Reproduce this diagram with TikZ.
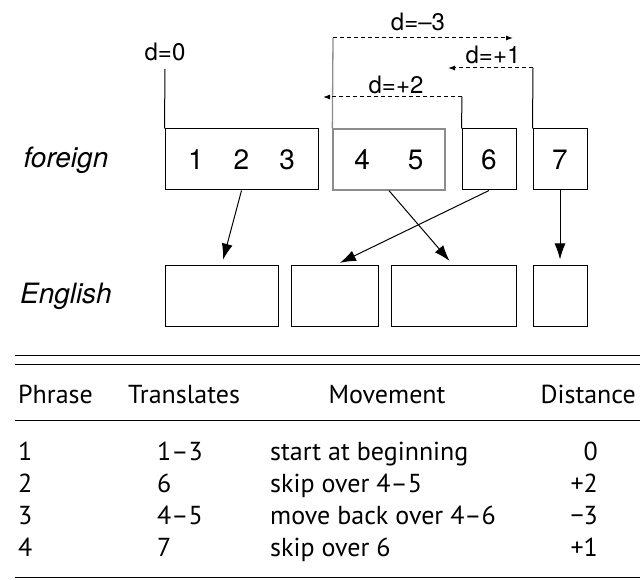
\documentclass[tikz,border=0pt]{standalone}
\usepackage{fontspec}
\setmainfont{TeX Gyre Heros}
\newfontfamily\tabfont{PT Sans}
\usetikzlibrary{arrows.meta}
\tikzstyle{phrase}=[draw,line width=1pt,minimum height=61pt,inner sep=0pt,font=\fontsize{28}{30}\selectfont]
\tikzstyle{moved}=[phrase,draw=black!45,line width=1.3pt]
\tikzstyle{slot}=[draw,line width=1pt,minimum height=60pt,inner sep=0pt]
\tikzstyle{lang}=[font=\fontsize{28}{30}\selectfont\itshape]
\tikzstyle{dist}=[font=\fontsize{24}{26}\selectfont,inner sep=0pt]
\tikzstyle{jump}=[dash pattern=on 4pt off 3pt,line width=1pt,-{Latex[length=7pt,width=5pt]}]
\tikzstyle{link}=[line width=1pt,-{Latex[length=16pt,width=11pt]},shorten >=6pt]
\tikzstyle{cell}=[font=\tabfont\fontsize{26}{28}\selectfont,inner sep=0pt]
\tikzstyle{rule}=[line width=1pt]

\begin{document}
\begin{tikzpicture}[x=1pt,y=-1pt]
  \useasboundingbox (0,0) rectangle (640,580);
  % foreign phrases
  \node[lang] (foreign) at (66,160) {foreign};
  \node[phrase,minimum width=153pt] (f123) at (241.5,159.5) {1\hspace{30pt}2\hspace{30pt}3};
  \node[moved,minimum width=112pt] (f45) at (389,159.5) {4\hspace{38pt}5};
  \node[phrase,minimum width=54pt] (f6) at (489,159.5) {6};
  \node[phrase,minimum width=54pt] (f7) at (560,159.5) {7};
  % English phrases
  \node[lang] (english) at (66,296) {English};
  \node[slot,minimum width=113pt] (e1) at (221.5,296) {};
  \node[slot,minimum width=87pt] (e2) at (334.5,296) {};
  \node[slot,minimum width=125pt] (e3) at (453.5,296) {};
  \node[slot,minimum width=54pt] (e4) at (560,296) {};
  \draw[link] (f123.south) -- (e1.north);
  \draw[link] (f45.south) -- (e3.north);
  \draw[link] (f6.south) -- (e2.north);
  \draw[link] (f7.south) -- (e4.north);
  % jumps
  \coordinate (up0) at (165,69);
  \coordinate (up3) at (333,38);
  \coordinate (to3) at (513,38);
  \coordinate (up2) at (462,97);
  \coordinate (to2) at (323,97);
  \coordinate (up1) at (533,68);
  \coordinate (to1) at (448,68);
  \draw[line width=1pt] (f123.north west) -- (up0);
  \draw[line width=1.3pt,black!45] (f45.north west) -- (up3);
  \draw[jump] (up3) -- (to3);
  \draw[line width=1pt] (f6.north west) -- (up2);
  \draw[jump] (up2) -- (to2);
  \draw[line width=1pt] (f7.north west) -- (up1);
  \draw[jump] (up1) -- (to1);
  \node[dist] (d0) at (165,52) {d=0};
  \node[dist] (d3) at (418,22) {d=--3};
  \node[dist] (d2) at (396,85) {d=+2};
  \node[dist] (d1) at (493,55) {d=+1};
  % table
  \coordinate (tl) at (15,355);
  \coordinate (tr) at (640,355);
  \draw[rule] (tl) -- (tr);
  \draw[rule] ([yshift=-9pt]tl) -- ([yshift=-9pt]tr);
  \draw[rule] ([yshift=-65pt]tl) -- ([yshift=-65pt]tr);
  \draw[rule] ([yshift=-222pt]tl) -- ([yshift=-222pt]tr);
  \node[cell,anchor=base west] (hphrase) at (18,403) {Phrase};
  \node[cell,anchor=base west] (htrans) at (128,403) {Translates};
  \node[cell,anchor=base] (hmove) at (387,403) {Movement};
  \node[cell,anchor=base east] (hdist) at (636,403) {Distance};
  \foreach \p/\t/\m/\d [count=\r] in {1/1–3/start at beginning/0,
      2/6/skip over 4–5/+2, 3/4–5/move back over 4–6/−3, 4/7/skip over 6/+1} {
    \node[cell,anchor=base west] (p\r) at (18,428+32*\r) {\p};
    \node[cell,anchor=base west] (t\r) at (157,428+32*\r) {\t};
    \node[cell,anchor=base west] (m\r) at (270,428+32*\r) {\m};
    \node[cell,anchor=base east] (d\r) at (598,428+32*\r) {\d};
  }
\end{tikzpicture}
\end{document}
